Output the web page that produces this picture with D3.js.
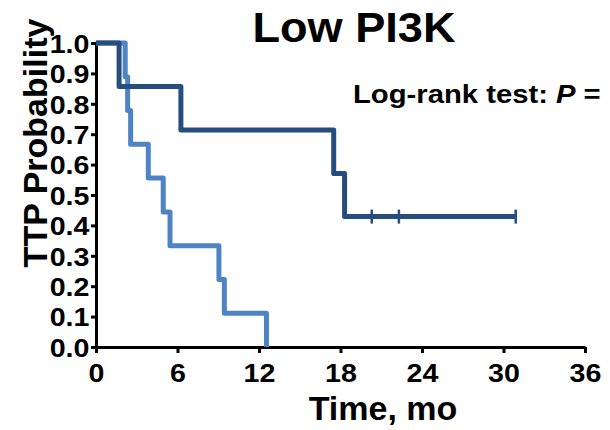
<!DOCTYPE html>
<html>
<head>
<meta charset="utf-8">
<script src="https://cdn.jsdelivr.net/npm/d3@7"></script>
<style>
  html, body { margin: 0; padding: 0; background: #fff; }
  svg { display: block; font-family: "Liberation Sans", Arial, sans-serif; font-weight: bold; }
</style>
</head>
<body>
<svg id="chart" width="610" height="430"></svg>
<script>
// Kaplan-Meier step data (time in months, probability after each event)
const cohortATimes = [0, 1.7, 6.25, 17.5, 18.3, 30.9];
const cohortASurv  = [1.0, 0.857, 0.714, 0.571, 0.429, 0.429];
const cohortACensored = [20.3, 22.3, 30.9];

const cohortBTimes = [0, 2.15, 2.33, 2.55, 3.85, 4.95, 5.45, 9.05, 9.45, 12.55];
const cohortBSurv  = [1.0, 0.889, 0.778, 0.667, 0.556, 0.444, 0.333, 0.222, 0.111, 0.0];

const xTicks = [0, 6, 12, 18, 24, 30, 36];
const yTicks = [0, 0.1, 0.2, 0.3, 0.4, 0.5, 0.6, 0.7, 0.8, 0.9, 1.0];

const titleText = "Low PI3K";
const xLabel = "Time, mo";
const yLabel = "TTP Probability";

const svg = d3.select("#chart");

const x = d3.scaleLinear().domain([0, 36]).range([96, 585]);
const y = d3.scaleLinear().domain([0, 1]).range([347, 43]);

const colorA = "#264d80";
const colorB = "#4f84c4";

// axes
const xAxis = svg.append("g")
  .attr("transform", `translate(0,${y(0)})`)
  .call(d3.axisBottom(x).tickValues(xTicks).tickFormat(d3.format("d")).tickSizeInner(6).tickSizeOuter(0).tickPadding(11));
const yAxis = svg.append("g")
  .attr("transform", `translate(${x(0)},0)`)
  .call(d3.axisLeft(y).tickValues(yTicks).tickFormat(d3.format(".1f")).tickSizeInner(5).tickSizeOuter(0).tickPadding(1));

[xAxis, yAxis].forEach(g => {
  g.select(".domain").attr("stroke", "#000").attr("stroke-width", 3);
  g.selectAll(".tick line").attr("stroke", "#000").attr("stroke-width", 3);
  g.selectAll(".tick text").attr("fill", "#000")
    .attr("transform", "scale(1.1,1)")
    .style("font-size", "26px").style("font-weight", "bold")
    .style("font-family", "'Liberation Sans', Arial, sans-serif");
});
xAxis.selectAll(".tick text").attr("dy", "0.71em");
yAxis.selectAll(".tick text").attr("dy", "0.36em");

// step curves
const line = d3.line()
  .x(d => x(d[0]))
  .y(d => y(d[1]))
  .curve(d3.curveStepAfter);

const ptsB = cohortBTimes.map((t, i) => [t, cohortBSurv[i]]);
const ptsA = cohortATimes.map((t, i) => [t, cohortASurv[i]]);

svg.append("path").datum(ptsB)
  .attr("d", line).attr("fill", "none")
  .attr("stroke", colorB).attr("stroke-width", 5).attr("stroke-linejoin", "round");

svg.append("path").datum(ptsA)
  .attr("d", line).attr("fill", "none")
  .attr("stroke", colorA).attr("stroke-width", 5).attr("stroke-linejoin", "round");

// censor marks
const lastA = cohortASurv[cohortASurv.length - 1];
svg.selectAll(".censor").data(cohortACensored).join("line")
  .attr("class", "censor")
  .attr("x1", d => x(d)).attr("x2", d => x(d))
  .attr("y1", y(lastA) - 7).attr("y2", y(lastA) + 7)
  .attr("stroke", colorA).attr("stroke-width", 2.5);

// title and labels
svg.append("text").attr("transform", "translate(354,42) scale(1.05,1)")
  .attr("text-anchor", "middle").style("font-size", "43px").text(titleText);

const lr = svg.append("text").attr("transform", "translate(353,103) scale(1.17,1)")
  .style("font-size", "25px");
lr.append("tspan").text("Log-rank test: ");
lr.append("tspan").style("font-style", "italic").text("P");
lr.append("tspan").text(" =");

svg.append("text").attr("x", 383).attr("y", 420)
  .attr("text-anchor", "middle").style("font-size", "34px").text(xLabel);

svg.append("text")
  .attr("transform", "translate(47,143) rotate(-90)")
  .attr("text-anchor", "middle").style("font-size", "34px").text(yLabel);
</script>
</body>
</html>
